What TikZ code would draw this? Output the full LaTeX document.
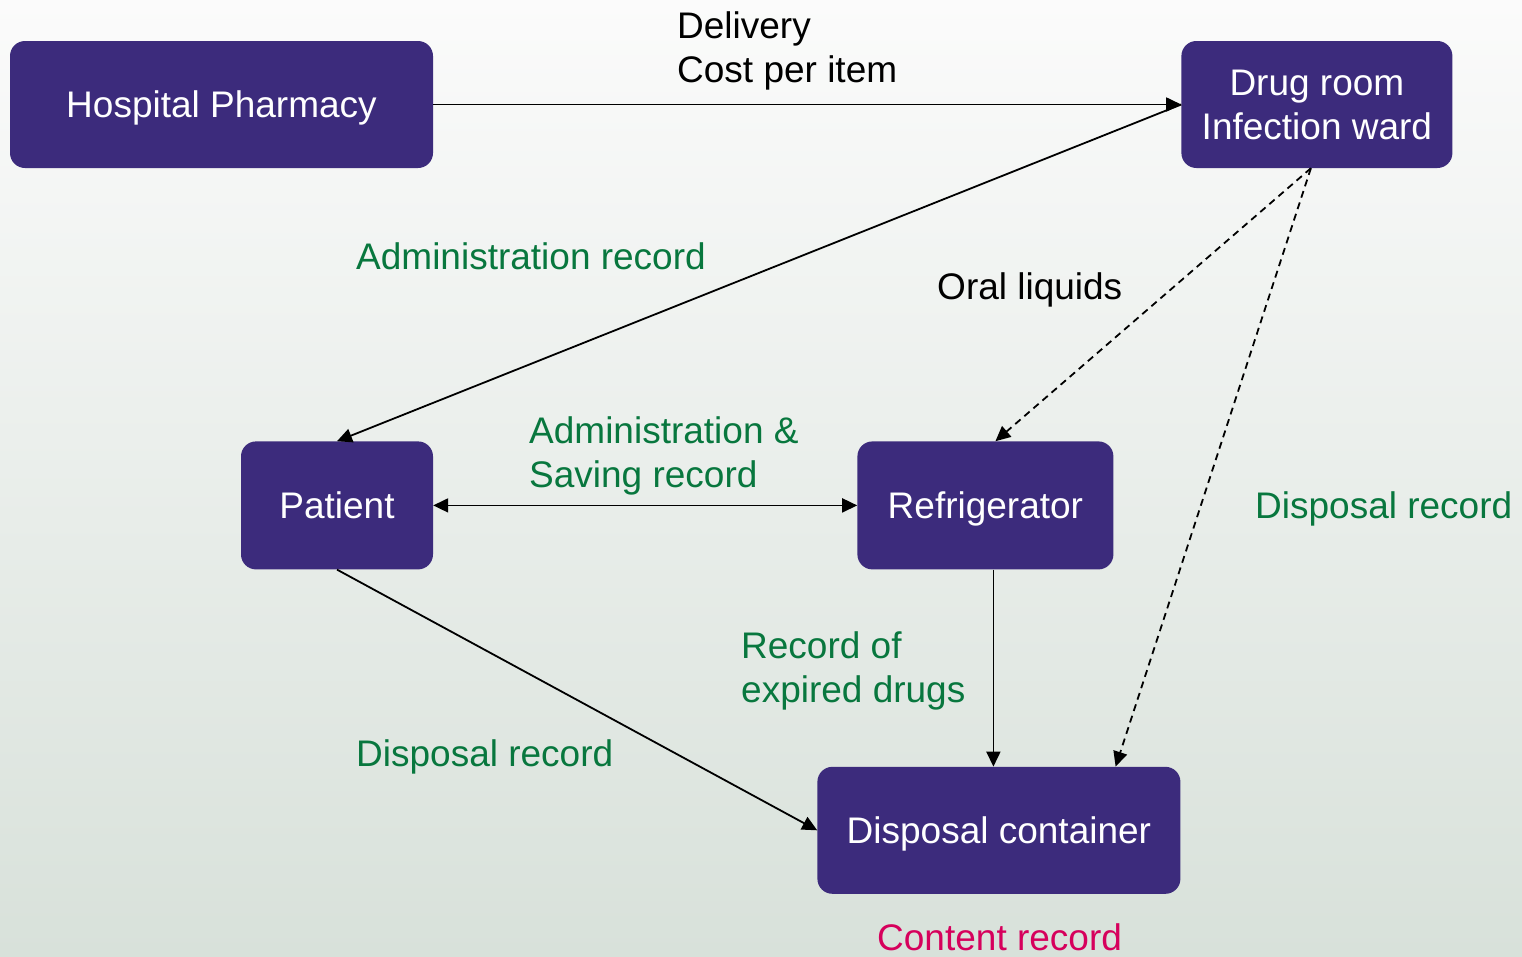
\documentclass[tikz,border=0pt]{standalone}
\usepackage{fontspec}
\setmainfont{Liberation Sans}
\usepackage{tikz}
\usetikzlibrary{arrows.meta,positioning}
\definecolor{boxpurple}{HTML}{3C2B7C}
\definecolor{recgreen}{HTML}{08773E}
\definecolor{recmagenta}{HTML}{D6005C}
\definecolor{bgtop}{HTML}{FBFBFB}
\definecolor{bgbottom}{HTML}{D8E1DA}
\tikzset{
  unitbox/.style={fill=boxpurple,rounded corners=15pt,text=white,align=center,inner sep=0pt,minimum height=127pt,text depth=0pt},
  txt/.style={inner sep=0pt,align=left,anchor=base west},
  greentxt/.style={txt,text=recgreen},
  flow/.style={-{Triangle[length=15pt,width=14pt]},line width=1.8pt},
  dualflow/.style={{Triangle[length=15pt,width=14pt]}-{Triangle[length=15pt,width=14pt]},line width=1.8pt},
  dashflow/.style={flow,dash pattern=on 7pt off 5pt},
}

\begin{document}
\begin{tikzpicture}[x=1pt,y=1pt,font=\fontsize{37}{44}\selectfont]
			\useasboundingbox (0,0) rectangle (1522,-956);
			\shade[top color=bgtop,bottom color=bgbottom] (0,0) rectangle (1522,-956);
			
			\node[unitbox,minimum width=423pt] (pharmacy) at (221.5,-104.5)
			{Hospital Pharmacy};
			
			\node[unitbox,minimum width=271pt,right=748pt of pharmacy] (drugroom)
			{Drug room\\Infection ward};
			
			\node[unitbox,minimum width=192pt,minimum height=128pt,below left=273pt and 0pt of pharmacy.south east] (patient)
			{Patient};
			
			\node[unitbox,minimum width=256pt,minimum height=128pt,right=424pt of patient] (fridge)
			{Refrigerator};
			
			\node[unitbox,minimum width=363pt,below right=197pt and -40pt of fridge.south west] (container)
			{Disposal container};
			
			\node[txt] (delivery) at (677,-82) {Delivery\\Cost per item};
			\node[greentxt] (adminrec) at (356,-269) {Administration record};
			\node[txt] (oral) at (937,-299) {Oral liquids};
			\node[greentxt] (savingrec) at (529,-487) {Administration \&\\Saving record};
			\node[greentxt] (disposalright) at (1255,-518) {Disposal record};
			\node[greentxt] (expired) at (741,-702) {Record of\\expired drugs};
			\node[greentxt] (disposalleft) at (356,-766) {Disposal record};
			\node[txt,text=recmagenta] (content) at (877,-950) {Content record};
			
			\draw[flow] (pharmacy)--(drugroom);
			\draw[flow] (drugroom.west)--(patient.north);
			\draw[dualflow] (patient)--(fridge);
			\draw[dashflow] ([xshift=-6pt]drugroom.south)--([xshift=10pt]fridge.north);
			\draw[dashflow] ([xshift=-6pt]drugroom.south)--([xshift=-65pt]container.north east);
			\draw[flow] ([xshift=8pt]fridge.south)--([xshift=8pt]fridge.south |- container.north);
			\draw[flow] (patient.south)--(container.west);
		\end{tikzpicture}
\end{document}
